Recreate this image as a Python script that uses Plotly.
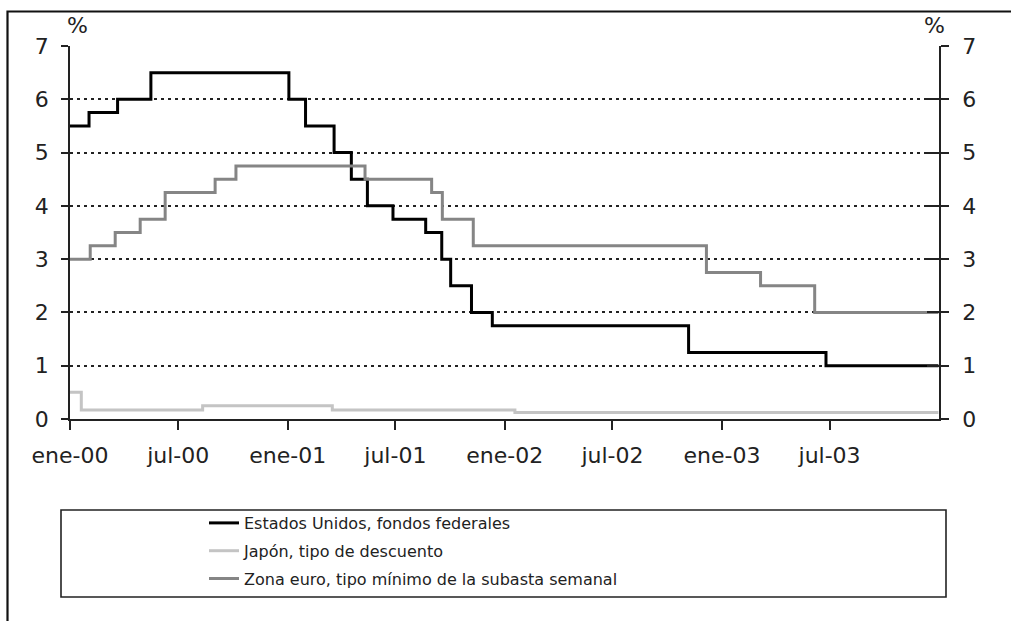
import plotly.graph_objects as go

# ---------------- data ----------------
series_names = [
    "Estados Unidos, fondos federales",
    "Japón, tipo de descuento",
    "Zona euro, tipo mínimo de la subasta semanal",
]

us_dates = ["2000-01-01", "2000-02-02", "2000-03-21", "2000-05-16", "2001-01-03",
            "2001-01-31", "2001-03-20", "2001-04-18", "2001-05-15", "2001-06-27",
            "2001-08-21", "2001-09-17", "2001-10-02", "2001-11-06", "2001-12-11",
            "2002-11-06", "2003-06-25", "2003-12-31"]
us_values = [5.5, 5.75, 6.0, 6.5, 6.0, 5.5, 5.0, 4.5, 4.0, 3.75, 3.5, 3.0, 2.5, 2.0,
             1.75, 1.25, 1.0, 1.0]

jp_dates = ["2000-01-01", "2000-01-20", "2000-08-11", "2001-03-17", "2002-01-18",
            "2003-12-31"]
jp_values = [0.5, 0.17, 0.25, 0.17, 0.12, 0.12]

eu_dates = ["2000-01-01", "2000-02-04", "2000-03-17", "2000-04-28", "2000-06-09",
            "2000-09-01", "2000-10-06", "2001-05-11", "2001-08-31", "2001-09-18",
            "2001-11-09", "2002-12-06", "2003-03-07", "2003-06-06", "2003-12-31"]
eu_values = [3.0, 3.25, 3.5, 3.75, 4.25, 4.5, 4.75, 4.5, 4.25, 3.75, 3.25, 2.75, 2.5,
             2.0, 2.0]

tick_dates = ["2000-01-01", "2000-07-01", "2001-01-01", "2001-07-01", "2002-01-01",
              "2002-07-01", "2003-01-01", "2003-07-01"]
tick_labels = ["ene-00", "jul-00", "ene-01", "jul-01", "ene-02", "jul-02", "ene-03",
               "jul-03"]
y_ticks = [0, 1, 2, 3, 4, 5, 6, 7]
x_range = ["2000-01-01", "2004-01-01"]
y_range = [0, 7]

# ---------------- layout helpers ----------------
W, H = 1011, 621
ML, MR, MT, MB = 70, 72, 46, 202
PW, PH = W - ML - MR, H - MT - MB


def px(x):
    return (x - ML) / PW


def py(y):
    return (H - MB - y) / PH


FONT = "DejaVu Sans, Verdana, sans-serif"
colors = ["#000000", "#c4c4c4", "#858585"]

fig = go.Figure()
for name, xs, ys, col in zip(series_names, [us_dates, jp_dates, eu_dates],
                             [us_values, jp_values, eu_values], colors):
    fig.add_trace(go.Scatter(x=xs, y=ys, name=name, mode="lines",
                             line=dict(color=col, width=3, shape="hv"),
                             legendgroup=name))

# helper traces so the right-hand axes get drawn
fig.add_trace(go.Scatter(x=[None], y=[None], yaxis="y2", showlegend=False,
                         hoverinfo="skip"))
fig.add_trace(go.Scatter(x=[None], y=[None], yaxis="y3", showlegend=False,
                         hoverinfo="skip"))

axis_font = dict(family=FONT, size=22, color="#222222")

fig.update_layout(
    width=W, height=H,
    margin=dict(l=ML, r=MR, t=MT, b=MB, pad=0),
    paper_bgcolor="white", plot_bgcolor="white",
    font=dict(family=FONT, color="#222222"),
    showlegend=True,
    legend=dict(x=px(204), xanchor="left", y=py(506), yanchor="top",
                font=dict(family=FONT, size=16, color="#222222"),
                bgcolor="rgba(0,0,0,0)", borderwidth=0, tracegroupgap=4),
    xaxis=dict(type="date", range=x_range, tickvals=tick_dates, ticktext=tick_labels,
               ticks="outside", ticklen=9, tickwidth=1.5, tickcolor="#222222",
               showline=True, linecolor="#222222", linewidth=1.5,
               showgrid=False, zeroline=False, tickfont=axis_font,
               ticklabelstandoff=7),
    yaxis=dict(range=y_range, tickvals=y_ticks, ticks="outside", ticklen=7,
               tickwidth=1.5, tickcolor="#222222",
               showline=True, linecolor="#222222", linewidth=1.5,
               showgrid=True, gridcolor="#222222", gridwidth=1.5, griddash="3px,4px",
               zeroline=False, tickfont=axis_font, ticklabelstandoff=8),
    yaxis2=dict(range=y_range, tickvals=y_ticks, overlaying="y", side="right",
                ticks="outside", ticklen=8, tickwidth=1.5, tickcolor="#222222",
                showline=True, linecolor="#222222", linewidth=1.5,
                showgrid=False, zeroline=False, tickfont=axis_font,
                ticklabelstandoff=9),
    yaxis3=dict(range=y_range, tickvals=y_ticks, overlaying="y", side="right",
                ticks="inside", ticklen=12, tickwidth=1.5, tickcolor="#222222",
                showline=False, showgrid=False, zeroline=False,
                showticklabels=False),
)

# outer frame (only left and top edges are inside the picture)
fig.add_shape(type="rect", xref="paper", yref="paper",
              x0=px(7.5), x1=px(1030), y0=py(640), y1=py(11.5),
              line=dict(color="#111111", width=2.2), layer="above")
# legend box
fig.add_shape(type="rect", xref="paper", yref="paper",
              x0=px(61), x1=px(946), y0=py(597), y1=py(510),
              line=dict(color="#222222", width=1.6), layer="above")

# unit labels
for xpos in (77.5, 934):
    fig.add_annotation(text="%", xref="paper", yref="paper", x=px(xpos), y=py(26),
                       xanchor="center", yanchor="middle", showarrow=False,
                       font=dict(family=FONT, size=22, color="#222222"))

fig.write_html("out.html",
               config={"displayModeBar": False},
               post_script="document.body.style.margin='0';"
                           "document.body.style.padding='0';")
